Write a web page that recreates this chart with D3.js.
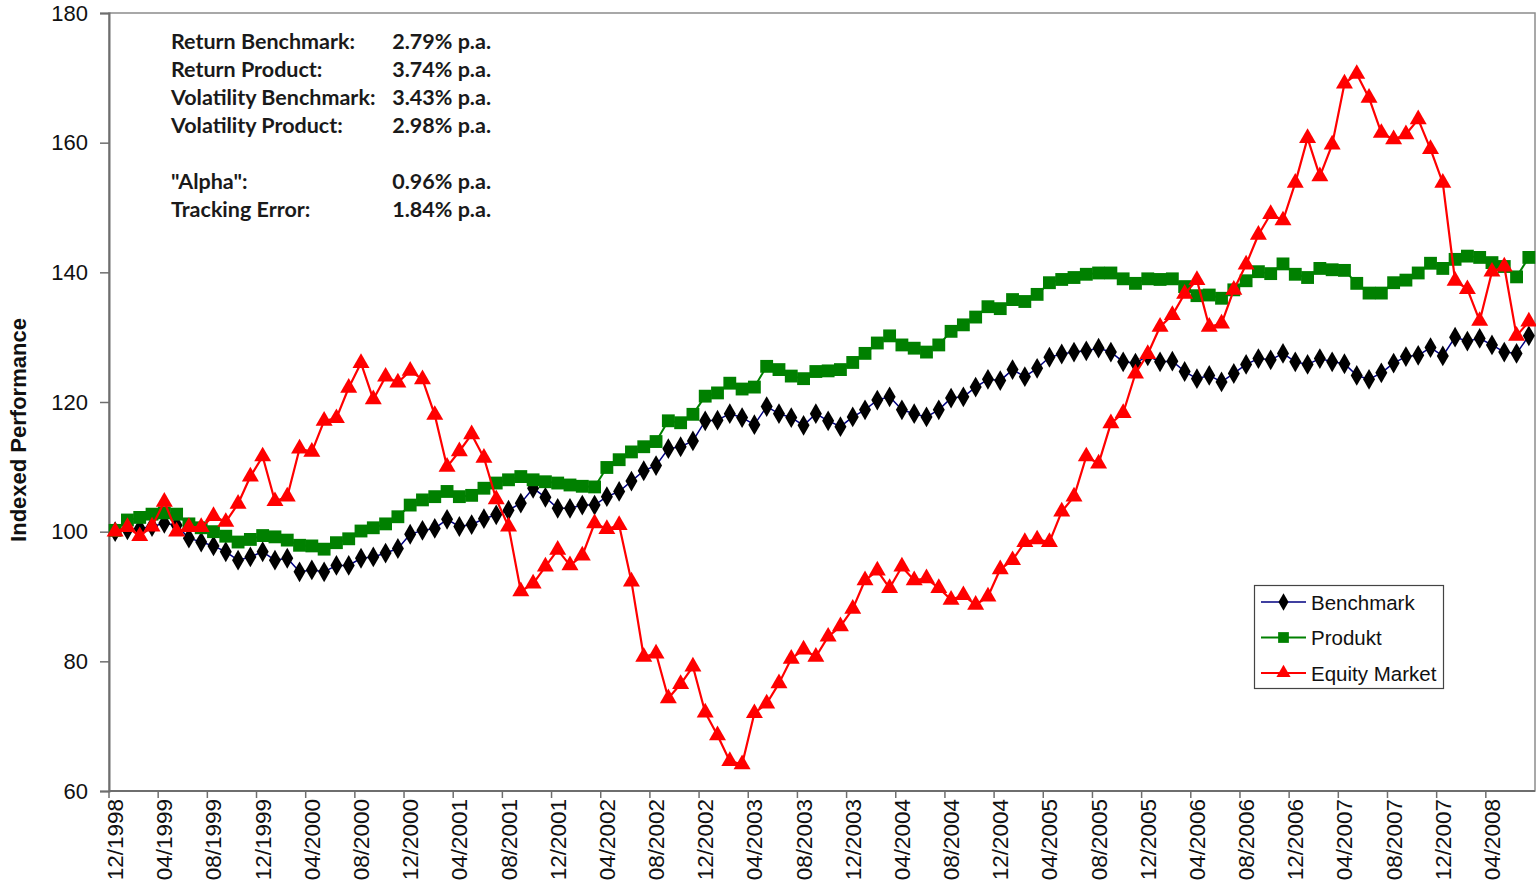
<!DOCTYPE html>
<html>
<head>
<meta charset="utf-8">
<script src="https://cdn.jsdelivr.net/npm/d3@7"></script>
<style>
  html, body { margin: 0; padding: 0; background: #fff; }
  svg { display: block; }
</style>
</head>
<body>
<svg id="chart" width="1536" height="893"></svg>
<script>
// ---------- DATA ----------
const startYear = 1998, startMonth = 12, nMonths = 116;
const categories = [];
for (let i = 0; i < nMonths; i++) {
  const m = (startMonth - 1 + i) % 12 + 1;
  const yr = startYear + Math.floor((startMonth - 1 + i) / 12);
  categories.push((m < 10 ? "0" + m : "" + m) + "/" + yr);
}
const tickLabels = ["12/1998","04/1999","08/1999","12/1999","04/2000","08/2000","12/2000","04/2001",
  "08/2001","12/2001","04/2002","08/2002","12/2002","04/2003","08/2003","12/2003","04/2004","08/2004",
  "12/2004","04/2005","08/2005","12/2005","04/2006","08/2006","12/2006","04/2007","08/2007","12/2007","04/2008"];
const yTicks = [60, 80, 100, 120, 140, 160, 180];

const benchmark = [100.0,100.3,100.5,100.8,101.3,101.0,99.0,98.4,97.8,96.9,95.6,96.1,96.9,95.6,95.9,93.8,94.1,93.8,94.8,94.8,
  95.9,96.1,96.7,97.4,99.6,100.2,100.5,101.9,100.8,101.1,102.0,102.6,103.3,104.4,106.7,105.3,103.6,103.6,104.1,104.1,
  105.4,106.2,107.8,109.4,110.2,112.8,113.1,114.0,117.1,117.2,118.2,117.6,116.5,119.3,118.2,117.6,116.4,118.2,117.1,116.2,
  117.7,118.8,120.3,120.8,118.8,118.2,117.7,118.8,120.6,120.8,122.3,123.5,123.3,125.0,123.9,125.2,126.9,127.4,127.7,127.9,
  128.3,127.7,126.2,126.0,127.1,126.2,126.3,124.7,123.6,124.1,123.1,124.4,125.8,126.7,126.5,127.5,126.2,125.8,126.7,126.2,
  125.9,124.1,123.5,124.5,126.0,127.0,127.2,128.4,127.1,130.0,129.4,129.8,128.8,127.7,127.5,130.2];

const produkt = [100.2,101.8,102.2,102.7,102.9,102.7,101.2,100.6,100.0,99.3,98.4,98.8,99.4,99.2,98.7,97.9,97.8,97.3,98.3,98.9,
  100.1,100.6,101.2,102.3,104.1,104.9,105.4,106.2,105.4,105.6,106.7,107.5,108.0,108.5,108.0,107.7,107.5,107.2,107.0,106.9,
  109.9,111.1,112.3,113.1,113.9,117.1,116.8,118.1,120.9,121.4,122.9,122.0,122.3,125.5,125.0,124.0,123.6,124.7,124.8,125.0,
  126.1,127.5,129.1,130.2,128.8,128.3,127.7,128.8,130.9,131.9,133.1,134.7,134.4,135.8,135.5,136.6,138.4,138.9,139.2,139.7,
  139.9,139.9,139.0,138.3,139.0,138.9,139.0,137.8,136.4,136.5,136.0,137.3,138.7,140.1,139.8,141.3,139.7,139.2,140.6,140.4,
  140.3,138.3,136.8,136.8,138.4,138.8,139.9,141.4,140.6,142.0,142.5,142.3,141.5,140.9,139.3,142.3];

const equity = [100.0,100.7,99.3,100.8,104.6,100.0,100.7,100.7,102.4,101.5,104.3,108.5,111.6,104.7,105.4,112.8,112.3,117.1,117.5,122.2,
  126.0,120.4,123.9,123.0,124.8,123.5,118.0,110.0,112.4,115.0,111.4,105.0,100.8,90.8,92.0,94.6,97.2,94.8,96.3,101.3,
  100.4,101.0,92.3,80.7,81.2,74.3,76.5,79.2,72.1,68.6,64.6,64.1,72.0,73.5,76.6,80.4,81.8,80.7,83.8,85.4,
  88.1,92.5,94.0,91.3,94.6,92.5,92.8,91.3,89.5,90.2,88.7,90.0,94.2,95.6,98.4,98.8,98.4,103.1,105.4,111.6,
  110.5,116.7,118.3,124.4,127.4,131.6,133.4,136.7,138.8,131.6,132.1,137.3,141.2,145.8,149.0,148.0,153.8,160.7,154.8,159.7,
  169.1,170.6,166.9,161.5,160.5,161.3,163.6,159.0,153.8,138.7,137.4,132.5,140.1,140.9,130.2,132.4];

const seriesNames = ["Benchmark", "Produkt", "Equity Market"];
const statLabels = ["Return Benchmark:", "Return Product:", "Volatility Benchmark:", "Volatility Product:", "", "\"Alpha\":", "Tracking Error:"];
const statValues = ["2.79% p.a.", "3.74% p.a.", "3.43% p.a.", "2.98% p.a.", "", "0.96% p.a.", "1.84% p.a."];

// ---------- CHART ----------
const svg = d3.select("#chart");
const pLeft = 109, pRight = 1535, pTop = 13, pBottom = 791;

const x = d3.scaleBand().domain(categories).range([pLeft, pRight]).padding(0);
const cx = c => x(c) + x.bandwidth() / 2;
const y = d3.scaleLinear().domain([60, 180]).range([pBottom, pTop]);

// plot frame
svg.append("rect").attr("x", pLeft).attr("y", pTop).attr("width", pRight - pLeft).attr("height", pBottom - pTop)
  .attr("fill", "none").attr("stroke", "#8c8c8c").attr("stroke-width", 1.5);

// Y axis
const yAxis = svg.append("g").attr("transform", `translate(${pLeft},0)`)
  .call(d3.axisLeft(y).tickValues(yTicks).tickSize(9).tickPadding(12).tickFormat(d3.format("d")));
yAxis.select(".domain").attr("stroke", "#6e6e6e").attr("stroke-width", 2);
yAxis.selectAll(".tick line").attr("stroke", "#6e6e6e").attr("stroke-width", 1.5);
yAxis.selectAll(".tick text").attr("font-family", "Liberation Sans, Arial, sans-serif")
  .attr("font-size", 22).attr("fill", "#111");

// X axis: ticks at boundaries every 4 categories, labels centred on categories
const tickCats = categories.filter((d, i) => i % 4 === 0);
const xg = svg.append("g");
xg.append("line").attr("x1", pLeft).attr("x2", pRight).attr("y1", pBottom).attr("y2", pBottom)
  .attr("stroke", "#6e6e6e").attr("stroke-width", 2);
xg.selectAll("line.tk").data(tickCats).join("line").attr("class", "tk")
  .attr("x1", d => x(d)).attr("x2", d => x(d)).attr("y1", pBottom).attr("y2", pBottom + 7)
  .attr("stroke", "#6e6e6e").attr("stroke-width", 1.5);
xg.selectAll("text").data(tickLabels).join("text")
  .attr("transform", d => `translate(${cx(d) + 8},${pBottom + 8}) rotate(-90)`)
  .attr("text-anchor", "end")
  .attr("font-family", "Liberation Sans, Arial, sans-serif").attr("font-size", 22.5).attr("fill", "#111")
  .text(d => d);

// Y axis title
svg.append("text").attr("transform", `translate(26,430) rotate(-90)`).attr("text-anchor", "middle")
  .attr("font-family", "Liberation Sans, Arial, sans-serif").attr("font-weight", "bold").attr("font-size", 22)
  .attr("fill", "#111").text("Indexed Performance");

// series
const series = [
  { name: seriesNames[0], values: benchmark, line: "#000080", lw: 1.5, fill: "#000000", sym: d3.symbolDiamond, size: 125 },
  { name: seriesNames[1], values: produkt, line: "#008000", lw: 2, fill: "#008000", sym: d3.symbolSquare, size: 165 },
  { name: seriesNames[2], values: equity, line: "#ff0000", lw: 2.2, fill: "#ff0000", sym: d3.symbolTriangle, size: 125 }
];

const lineGen = d3.line().x((d, i) => cx(categories[i])).y(d => y(d));
series.forEach(s => {
  const g = svg.append("g");
  g.append("path").datum(s.values).attr("d", lineGen).attr("fill", "none")
    .attr("stroke", s.line).attr("stroke-width", s.lw).attr("stroke-linejoin", "round");
  g.selectAll("path.m").data(s.values).join("path").attr("class", "m")
    .attr("transform", (d, i) => `translate(${cx(categories[i])},${y(d)})`)
    .attr("d", d3.symbol().type(s.sym).size(s.size)).attr("fill", s.fill);
});

// stats text box
const stats = svg.append("g").attr("font-family", "Lato, 'Open Sans', sans-serif").attr("font-weight", "bold")
  .attr("font-size", 21.5).attr("fill", "#1a1a1a");
statLabels.forEach((t, i) => {
  if (!t) return;
  const yy = 49 + i * 28;
  stats.append("text").attr("x", 171).attr("y", yy).text(t);
  stats.append("text").attr("x", 491).attr("y", yy).attr("text-anchor", "end").text(statValues[i]);
});

// legend
const lg = svg.append("g");
lg.append("rect").attr("x", 1254.5).attr("y", 585.5).attr("width", 189).attr("height", 103)
  .attr("fill", "#fff").attr("stroke", "#444").attr("stroke-width", 1.2);
series.forEach((s, i) => {
  const yy = 602 + i * 35.5;
  lg.append("line").attr("x1", 1261).attr("x2", 1306).attr("y1", yy).attr("y2", yy)
    .attr("stroke", s.line).attr("stroke-width", s.lw);
  lg.append("path").attr("transform", `translate(1283.5,${yy})`)
    .attr("d", d3.symbol().type(s.sym).size(s.size * 0.7)).attr("fill", s.fill);
  lg.append("text").attr("x", 1311).attr("y", yy + 7.5)
    .attr("font-family", "Liberation Sans, Arial, sans-serif").attr("font-size", 20.5).attr("fill", "#111")
    .text(s.name);
});
</script>
</body>
</html>
